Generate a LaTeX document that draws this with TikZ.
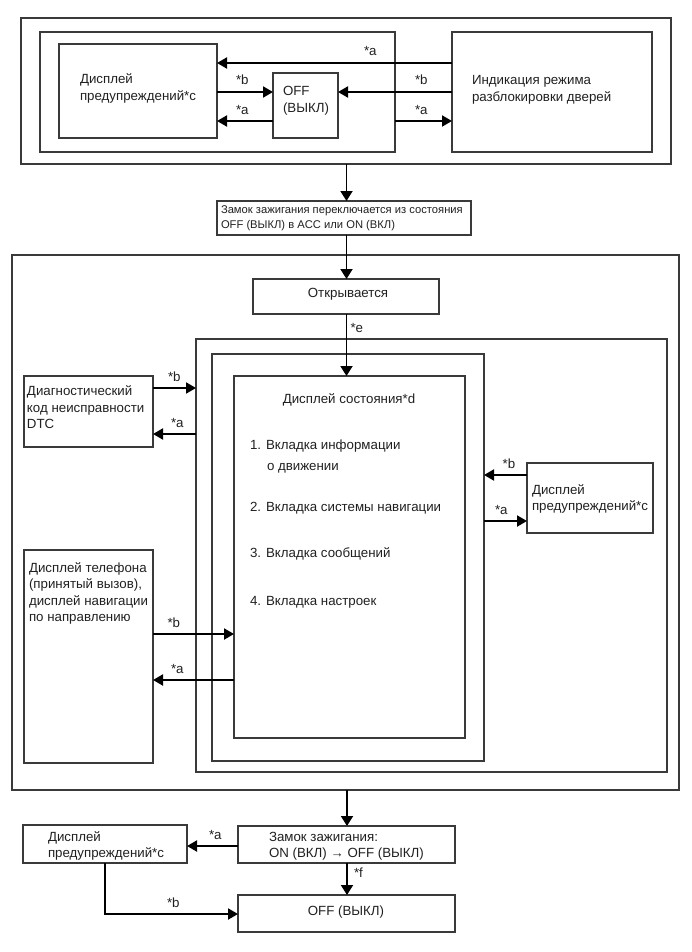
\documentclass[tikz,border=0pt]{standalone}
\usepackage{fontspec}
\setmainfont{Liberation Sans}
\usetikzlibrary{arrows.meta}
\definecolor{boxcol}{HTML}{3A3A3A}
\definecolor{txtcol}{HTML}{202020}
\newcommand\mainfs{\fontsize{13.3}{16.5}\selectfont}
\newcommand\smallfs{\fontsize{11.2}{15}\selectfont}
\newcommand\mybox[5]{\node[box, minimum width={(#4-#2)*1pt}, minimum height={(#5-#3)*1pt}] (#1) at (#2,#3) {};}
\tikzset{
  box/.style={draw=boxcol, line width=1.3pt, inner sep=0pt, outer sep=0pt, anchor=north west},
  arr/.style={draw=black, line width=2pt, -{Triangle[length=10pt,width=11pt]}},
  flow/.style={draw=black, line width=1.8pt, -{Triangle[length=10pt,width=12pt]}},
  txt/.style={anchor=base west, inner sep=0pt, outer sep=0pt, font=\mainfs, text=txtcol},
  ctxt/.style={anchor=base, inner sep=0pt, outer sep=0pt, font=\mainfs, text=txtcol},
  stxt/.style={anchor=base west, inner sep=0pt, outer sep=0pt, font=\smallfs, text=txtcol},
  lbl/.style={anchor=base west, inner sep=0pt, outer sep=0pt, font=\mainfs, text=txtcol}
}
\begin{document}
\begin{tikzpicture}[x=1pt,y=-1pt]
\useasboundingbox (0,0) rectangle (691,952);
% ---------- boxes ----------
\mybox{outerTop}{21}{18}{671}{164}
\mybox{innerL}{40}{32}{395}{152}
\mybox{dispTop}{59}{44}{217}{138}
\mybox{offTop}{273}{73}{338}{138}
\mybox{indic}{452}{32}{652}{152}
\mybox{zamokA}{217}{201}{471}{235}
\mybox{midOuter}{12}{255}{679}{790}
\mybox{otkr}{253}{279}{439}{314}
\mybox{boxA}{196}{339}{667}{772}
\mybox{boxB}{212}{354}{484}{761}
\mybox{boxC}{234}{376}{465}{738}
\mybox{diag}{24}{376}{153}{447}
\mybox{phone}{24}{550}{153}{763}
\mybox{warnR}{527}{463}{653}{533}
\mybox{warnB}{23}{825}{187}{863}
\mybox{zamokB}{238}{826}{455}{863}
\mybox{offB}{238}{895}{455}{932}
% ---------- texts ----------
\node[txt] (t1) at (80,84) {Дисплей};
\node[txt] (t2) at (80,100.5) {предупреждений*c};
\node[txt] (t3) at (283,96) {OFF};
\node[txt] (t4) at (283,112.5) {(ВЫКЛ)};
\node[txt] (t5) at (472,85) {Индикация режима};
\node[txt] (t6) at (472,101.5) {разблокировки дверей};
\node[stxt] (t7) at (221,213.3) {Замок зажигания переключается из состояния};
\node[stxt] (t8) at (221,228.5) {OFF (ВЫКЛ) в ACC или ON (ВКЛ)};
\node[ctxt] (t9) at (348,297.5) {Открывается};
\node[ctxt] (t10) at (349,403) {Дисплей состояния*d};
\node[txt] (t11) at (250,449) {1. Вкладка информации};
\node[txt] (t12) at (267,470) {о движении};
\node[txt] (t13) at (250,511) {2. Вкладка системы навигации};
\node[txt] (t14) at (250,557) {3. Вкладка сообщений};
\node[txt] (t15) at (250,605) {4. Вкладка настроек};
\node[txt] (t16) at (27,395.5) {Диагностический};
\node[txt] (t17) at (27,412) {код неисправности};
\node[txt] (t18) at (27,428.5) {DTC};
\node[txt] (t19) at (29,572.5) {Дисплей телефона};
\node[txt] (t20) at (29,588.8) {(принятый вызов),};
\node[txt] (t21) at (29,605) {дисплей навигации};
\node[txt] (t22) at (29,621.3) {по направлению};
\node[txt] (t23) at (532,494) {Дисплей};
\node[txt] (t24) at (532,510) {предупреждений*c};
\node[txt] (t25) at (48,841) {Дисплей};
\node[txt] (t26) at (48,857) {предупреждений*c};
\node[txt] (t27) at (269,841) {Замок зажигания:};
\node[txt] (t28) at (269,857) {ON (ВКЛ) → OFF (ВЫКЛ)};
\node[ctxt] (t29) at (346,915) {OFF (ВЫКЛ)};
% ---------- labels ----------
\node[lbl] (la1) at (364,56) {*a};
\node[lbl] (lb1) at (236,85) {*b};
\node[lbl] (la2) at (236,115) {*a};
\node[lbl] (lb2) at (415,85) {*b};
\node[lbl] (la3) at (415,115) {*a};
\node[lbl] (le) at (350.5,332) {*e};
\node[lbl] (lb3) at (168,381) {*b};
\node[lbl] (la4) at (171,427) {*a};
\node[lbl] (lb4) at (167.5,627) {*b};
\node[lbl] (la5) at (171,673) {*a};
\node[lbl] (lb5) at (502.7,468) {*b};
\node[lbl] (la6) at (495,514) {*a};
\node[lbl] (la7) at (209,839) {*a};
\node[lbl] (lf) at (354,877) {*f};
\node[lbl] (lb6) at (167,907) {*b};
% ---------- connectors ----------
\draw[arr] (indic.west |- 0,63) -- (dispTop.east |- 0,63);
\draw[arr] (dispTop.east |- 0,92) -- (offTop.west |- 0,92);
\draw[arr] (offTop.west |- 0,121) -- (dispTop.east |- 0,121);
\draw[arr] (indic.west |- 0,92) -- (offTop.east |- 0,92);
\draw[arr] (innerL.east |- 0,121) -- (indic.west |- 0,121);
\draw[flow] (outerTop.south -| 346.5,0) -- (zamokA.north -| 346.5,0);
\draw[flow] (zamokA.south -| 346.5,0) -- (otkr.north -| 346.5,0);
\draw[flow] (otkr.south -| 346.5,0) -- (boxC.north -| 346.5,0);
\draw[arr] (diag.east |- 0,388) -- (boxA.west |- 0,388);
\draw[arr] (boxA.west |- 0,434) -- (diag.east |- 0,434);
\draw[arr] (phone.east |- 0,634) -- (boxC.west |- 0,634);
\draw[arr] (boxC.west |- 0,680) -- (phone.east |- 0,680);
\draw[arr] (warnR.west |- 0,475) -- (boxB.east |- 0,475);
\draw[arr] (boxB.east |- 0,521) -- (warnR.west |- 0,521);
\draw[flow] (midOuter.south -| 347,0) -- (zamokB.north -| 347,0);
\draw[arr] (zamokB.west |- 0,846) -- (warnB.east |- 0,846);
\draw[flow] (zamokB.south -| 347,0) -- (offB.north -| 347,0);
\draw[arr] (warnB.south -| 105,0) |- (offB.west |- 0,914);
\end{tikzpicture}
\end{document}
